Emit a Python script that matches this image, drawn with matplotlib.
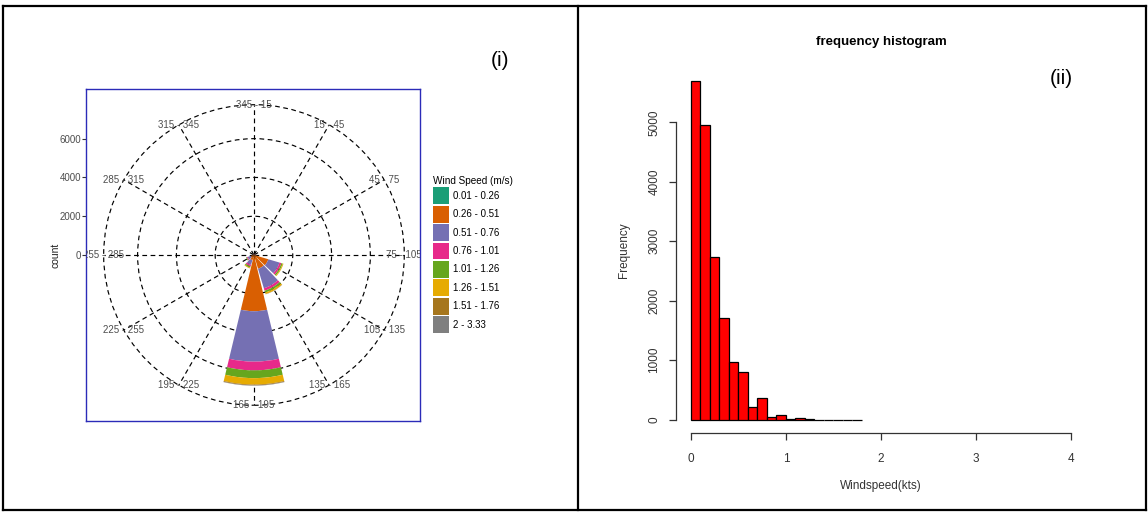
import numpy as np
import matplotlib
matplotlib.use("Agg")
import matplotlib.pyplot as plt
from matplotlib.patches import Wedge, Circle, Patch
from matplotlib.lines import Line2D

plt.rcParams['font.family'] = ['Liberation Sans', 'DejaVu Sans']

# Datos de la rosa de vientos: 12 sectores de 30 grados
sectores = ["345 - 15", "15 - 45", "45 - 75", "75 - 105", "105 - 135", "135 - 165",
            "165 - 195", "195 - 225", "225 - 255", "255 - 285", "285 - 315", "315 - 345"]
rumbos = [0, 30, 60, 90, 120, 150, 180, 210, 240, 270, 300, 330]

clases_vel = ["0.01 - 0.26", "0.26 - 0.51", "0.51 - 0.76", "0.76 - 1.01",
              "1.01 - 1.26", "1.26 - 1.51", "1.51 - 1.76", "2 - 3.33"]
colores_vel = ["#1B9E77", "#D95F02", "#7570B3", "#E7298A",
               "#66A61E", "#E6AB02", "#A6761D", "#7F7F7F"]

# Conteos por clase de velocidad (una fila por clase, una columna por sector)
cuenta_v1 = [10, 10, 10, 15, 20, 40, 60, 30, 15, 10, 10, 10]
cuenta_v2 = [30, 25, 30, 60, 750, 700, 2840, 250, 150, 40, 30, 30]
cuenta_v3 = [20, 15, 20, 30, 600, 1050, 2600, 250, 170, 20, 15, 15]
cuenta_v4 = [5, 5, 5, 10, 100, 130, 450, 80, 50, 5, 5, 5]
cuenta_v5 = [5, 5, 5, 5, 70, 100, 400, 70, 40, 5, 5, 5]
cuenta_v6 = [0, 0, 0, 5, 40, 80, 330, 40, 0, 0, 0, 0]
cuenta_v7 = [0, 0, 0, 0, 5, 10, 40, 0, 0, 0, 0, 0]
cuenta_v8 = [0, 0, 0, 0, 0, 5, 20, 0, 0, 0, 0, 0]

anillos = [2000, 4000, 6000]
radio_max = 7750

# Datos del histograma (clases de 0.1)
inicio_clase = np.round(np.arange(0, 1.8, 0.1), 2)
frecuencias = [5690, 4960, 2740, 1715, 970, 796, 207, 370, 40, 84, 5, 35, 3, 2, 2, 1, 1, 1]

W, H = 1148, 512
fig = plt.figure(figsize=(W / 100, H / 100), dpi=100)


def caja(x0, y0, x1, y1):
    """Rectángulo en píxeles (origen arriba a la izquierda) a fracción de figura"""
    return [x0 / W, 1 - y1 / H, (x1 - x0) / W, (y1 - y0) / H]


# ---------------- Rosa de vientos ----------------
ax1 = fig.add_axes(caja(86, 89, 420, 421))
ax1.set_xlim(-8660, 8560)
ax1.set_ylim(-8560, 8560)
for s in ax1.spines.values():
    s.set_color("#2b2bb8")
    s.set_linewidth(1.0)
ax1.set_xticks([])
ax1.set_yticks([0] + anillos)
ax1.set_yticklabels(["0"] + [str(a) for a in anillos])
ax1.tick_params(axis="y", length=3, width=0.8, color="#333333",
                labelsize=7, labelcolor="#4d4d4d", pad=0.5)
ax1.set_ylabel("count", fontsize=7.5, color="#222222", labelpad=-1)

rejilla = dict(lw=0.85, linestyle=(0, (4, 3)), zorder=1)
for r in anillos + [radio_max]:
    ax1.add_patch(Circle((0, 0), r, fill=False, edgecolor="black", **rejilla))
for b in rumbos:
    t = np.radians(b)
    ax1.add_line(Line2D([0, radio_max * np.sin(t)], [0, radio_max * np.cos(t)],
                        color="black", **rejilla))

# Barras apiladas por sector
cuentas = np.array([cuenta_v1, cuenta_v2, cuenta_v3, cuenta_v4,
                    cuenta_v5, cuenta_v6, cuenta_v7, cuenta_v8])
base = np.zeros(len(rumbos))
semiancho = 13.5
for i, fila in enumerate(cuentas):
    for j, b in enumerate(rumbos):
        if fila[j] <= 0:
            continue
        r_in, r_out = base[j], base[j] + fila[j]
        th = 90 - b
        ax1.add_patch(Wedge((0, 0), r_out, th - semiancho, th + semiancho,
                            width=r_out - r_in, facecolor=colores_vel[i],
                            edgecolor="none", zorder=3))
    base += fila

for b, lab in zip(rumbos, sectores):
    t = np.radians(b)
    ax1.text(radio_max * np.sin(t), radio_max * np.cos(t), lab, fontsize=7,
             color="#4d4d4d", ha="center", va="center", zorder=4, clip_on=True)

handles = [Patch(facecolor=c, edgecolor="none") for c in colores_vel]
fig.legend(handles, clases_vel, loc="upper left",
           bbox_to_anchor=(431 / W, 1 - 174 / H), frameon=False,
           fontsize=7, title="Wind Speed (m/s)", title_fontsize=7.2,
           handlelength=1.65, handleheight=2.3, labelspacing=0.15,
           handletextpad=0.45, borderaxespad=0, borderpad=0.2, alignment="left")

fig.text(500 / W, 1 - 60 / H, "(i)", fontsize=15, ha="center", va="center")

# ---------------- Histograma ----------------
ax2 = fig.add_axes(caja(675.7, 67.7, 1086.3, 433.2))
ax2.bar(inicio_clase, frecuencias, width=0.1, align="edge",
        color="red", edgecolor="black", linewidth=0.9)
ax2.set_xlim(-0.16, 4.16)
ax2.set_ylim(-227.6, 5917.6)
ax2.spines["top"].set_visible(False)
ax2.spines["right"].set_visible(False)
ax2.spines["left"].set_bounds(0, 5000)
ax2.spines["bottom"].set_bounds(0, 4)
for s in ("left", "bottom"):
    ax2.spines[s].set_color("#333333")
    ax2.spines[s].set_linewidth(0.9)
ax2.set_xticks([0, 1, 2, 3, 4])
ax2.set_yticks([0, 1000, 2000, 3000, 4000, 5000])
ax2.tick_params(length=5, width=0.9, color="#333333", labelsize=8.5,
                labelcolor="#333333")
ax2.tick_params(axis="x", pad=9)
ax2.tick_params(axis="y", pad=6)
plt.setp(ax2.get_yticklabels(), rotation=90, va="center")
ax2.set_xlabel("Windspeed(kts)", fontsize=8.5, color="#333333", labelpad=11)
ax2.set_ylabel("Frequency", fontsize=8.5, color="#333333", labelpad=13)
ax2.set_title("frequency histogram", fontsize=9.5, fontweight="bold", pad=16)

fig.text(1061 / W, 1 - 78 / H, "(ii)", fontsize=15, ha="center", va="center")

# Marco exterior y separador
marco = dict(color="black", lw=1.6, transform=fig.transFigure)
for xs, ys in [([3, 1146], [6, 6]), ([3, 1146], [510, 510]),
               ([3, 3], [6, 510]), ([1146, 1146], [6, 510]), ([578, 578], [6, 510])]:
    fig.add_artist(Line2D([x / W for x in xs], [1 - y / H for y in ys], **marco))

fig.savefig("out.png", dpi=100, facecolor="white")
